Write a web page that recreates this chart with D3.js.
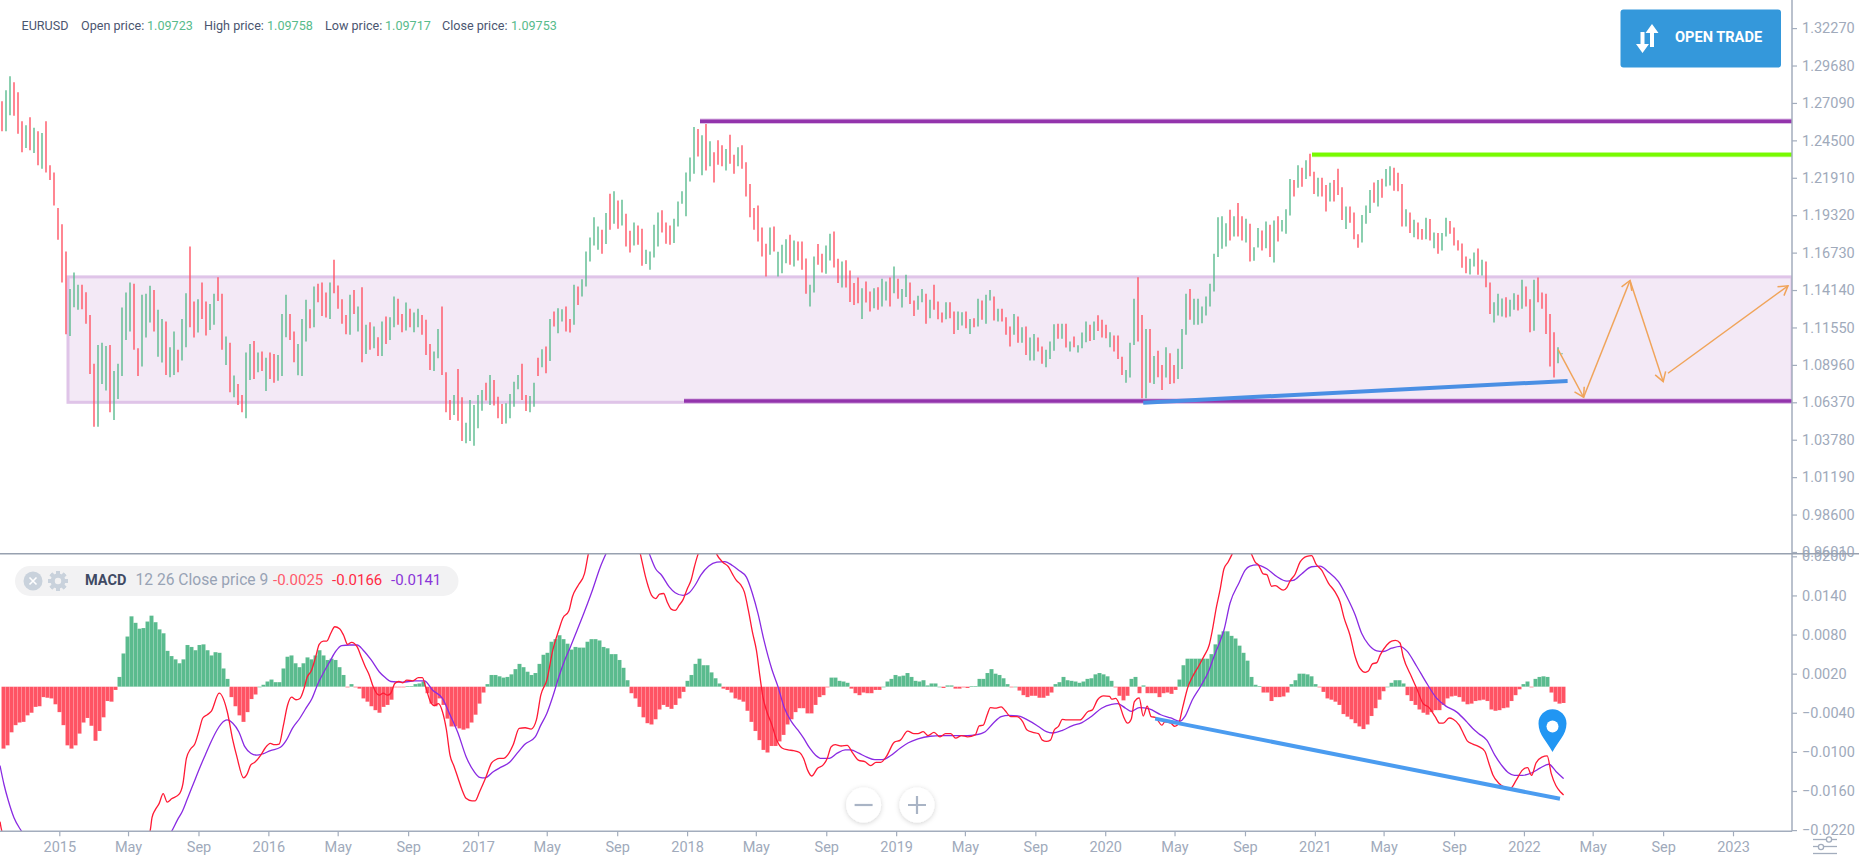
<!DOCTYPE html>
<html><head><meta charset="utf-8">
<script src="https://cdnjs.cloudflare.com/ajax/libs/d3/7.8.5/d3.min.js"></script>
<style>
html,body{margin:0;padding:0;background:#fff;overflow:hidden}
svg{display:block;font-family:Roboto,sans-serif}
</style></head><body><svg id="c" width="1859" height="862"></svg>
<script>
// ---------- tick labels ----------
const priceTicks=[1.32270,1.29680,1.27090,1.24500,1.21910,1.19320,1.16730,1.14140,1.11550,1.08960,1.06370,1.03780,1.01190,0.98600,0.96010];
const macdTicks=[0.0200,0.0140,0.0080,0.0020,-0.0040,-0.0100,-0.0160,-0.0220];
const timeTickDates=["2015-01-01","2015-05-01","2015-09-01","2016-01-01","2016-05-01","2016-09-01","2017-01-01","2017-05-01","2017-09-01","2018-01-01","2018-05-01","2018-09-01","2019-01-01","2019-05-01","2019-09-01","2020-01-01","2020-05-01","2020-09-01","2021-01-01","2021-05-01","2021-09-01","2022-01-01","2022-05-01","2022-09-01","2023-01-01"];
const timeTickLabels=["2015","May","Sep","2016","May","Sep","2017","May","Sep","2018","May","Sep","2019","May","Sep","2020","May","Sep","2021","May","Sep","2022","May","Sep","2023"];
// ---------- weekly highs ----------
const highs=[1.2720,1.2797,1.2894,1.2852,1.2783,1.2582,1.2554,1.2610,1.2538,1.2513,
1.2501,1.2582,1.2277,1.2228,1.1981,1.1870,1.1681,1.1422,1.1535,1.1450,
1.1450,1.1399,1.1242,1.0903,1.1034,1.1050,1.1027,1.1034,1.0854,1.0903,
1.1293,1.1397,1.1466,1.1457,1.1011,1.1381,1.1388,1.1443,1.1415,1.1277,
1.1214,1.1196,1.1018,1.1127,1.1000,1.1214,1.1392,1.1716,1.1335,1.1351,
1.1466,1.1335,1.1318,1.1388,1.1503,1.1388,1.1092,1.1050,1.0822,1.0764,
1.0688,1.0981,1.1041,1.1062,1.0981,1.0988,1.0946,1.0981,1.0972,1.0965,
1.1249,1.1381,1.1249,1.1127,1.1041,1.1214,1.1346,1.1281,1.1439,1.1457,
1.1466,1.1397,1.1466,1.1623,1.1445,1.1351,1.1242,1.1381,1.1415,1.1300,
1.1434,1.1173,1.1191,1.1161,1.1087,1.1196,1.1231,1.1226,1.1369,1.1353,
1.1249,1.1328,1.1284,1.1258,1.1284,1.1242,1.1208,1.1041,1.0988,1.1145,
1.1300,1.0845,1.0653,1.0688,1.0868,1.0672,1.0496,1.0653,1.0618,1.0688,
1.0722,1.0773,1.0826,1.0792,1.0676,1.0625,1.0630,1.0695,1.0780,1.0826,
1.0903,1.0688,1.0681,1.0773,1.0946,1.1004,1.1023,1.1214,1.1265,1.1288,
1.1281,1.1300,1.1214,1.1450,1.1439,1.1489,1.1681,1.1778,1.1917,1.1854,
1.1831,1.1947,1.2081,1.2097,1.2034,1.2039,1.1942,1.1824,1.1882,1.1861,
1.1838,1.1692,1.1681,1.1866,1.1951,1.1967,1.1882,1.1861,1.1907,1.2027,
1.2097,1.2228,1.2332,1.2543,1.2529,1.2485,1.2563,1.2443,1.2367,1.2450,
1.2416,1.2390,1.2489,1.2351,1.2402,1.2416,1.2298,1.2148,1.1981,1.2000,
1.1847,1.1734,1.1847,1.1854,1.1679,1.1727,1.1766,1.1796,1.1757,1.1750,
1.1750,1.1632,1.1450,1.1646,1.1732,1.1665,1.1723,1.1803,1.1820,1.1630,
1.1612,1.1621,1.1549,1.1462,1.1501,1.1427,1.1473,1.1404,1.1427,1.1434,
1.1492,1.1473,1.1501,1.1577,1.1492,1.1422,1.1519,1.1466,1.1341,1.1374,
1.1422,1.1388,1.1346,1.1450,1.1335,1.1258,1.1330,1.1330,1.1265,1.1265,
1.1261,1.1265,1.1214,1.1219,1.1353,1.1341,1.1381,1.1415,1.1369,1.1284,
1.1284,1.1226,1.1161,1.1249,1.1231,1.1157,1.1161,1.1085,1.1110,1.1085,
1.1023,1.1000,1.1057,1.1177,1.1180,1.1180,1.1180,1.1057,1.1092,1.1032,
1.1120,1.1196,1.1173,1.1196,1.1240,1.1208,1.1173,1.1122,1.1099,1.1099,
1.0953,1.0861,1.1050,1.1353,1.1503,1.1242,1.1145,1.1145,1.0958,1.0993,
1.0896,1.1018,1.0976,1.0896,1.1007,1.1145,1.1388,1.1422,1.1353,1.1353,
1.1300,1.1369,1.1457,1.1665,1.1917,1.1924,1.1877,1.1970,1.1924,1.2016,
1.1924,1.1907,1.1873,1.1711,1.1843,1.1826,1.1889,1.1866,1.1896,1.1924,
1.1898,1.1974,1.2182,1.2175,1.2277,1.2261,1.2312,1.2358,1.2233,1.2191,
1.2191,1.2141,1.2157,1.2175,1.2254,1.2125,1.1993,1.1993,1.1951,1.1801,
1.1933,1.2000,1.2106,1.2159,1.2175,1.2185,1.2252,1.2270,1.2261,1.2226,
1.2148,1.1974,1.1951,1.1900,1.1882,1.1836,1.1914,1.1905,1.1813,1.1808,
1.1808,1.1914,1.1891,1.1847,1.1759,1.1736,1.1646,1.1630,1.1674,1.1702,
1.1623,1.1612,1.1466,1.1330,1.1388,1.1355,1.1364,1.1346,1.1392,1.1381,
1.1485,1.1438,1.1351,1.1485,1.1501,1.1397,1.1388,1.1249,1.1122,1.1018,1.09758];
// ---------- weekly lows ----------
const lows=[1.2513,1.2513,1.2623,1.2621,1.2496,1.2367,1.2397,1.2381,1.2362,1.2277,
1.2254,1.2228,1.2175,1.1999,1.1762,1.1466,1.1108,1.1096,1.1295,1.1277,
1.1281,1.1180,1.0833,1.0468,1.0468,1.0764,1.0718,1.0568,1.0514,1.0660,
1.0819,1.1069,1.1127,1.1000,1.0819,1.0884,1.1085,1.1189,1.1127,1.0953,
1.0912,1.0826,1.0810,1.0826,1.0845,1.0926,1.1018,1.1157,1.1085,1.1120,
1.1214,1.1099,1.1138,1.1173,1.1339,1.1000,1.0896,1.0706,1.0672,1.0618,
1.0568,1.0526,1.0792,1.0799,1.0845,1.0854,1.0715,1.0799,1.0773,1.0787,
1.0819,1.1087,1.1069,1.0914,1.0824,1.0819,1.1057,1.1150,1.1157,1.1330,
1.1235,1.1224,1.1214,1.1392,1.1284,1.1180,1.1108,1.1104,1.1249,1.1127,
1.0914,1.0972,1.1000,1.1011,1.0958,1.0958,1.1041,1.1069,1.1157,1.1173,
1.1122,1.1134,1.1157,1.1122,1.1157,1.1104,1.0965,1.0861,1.0854,1.0942,
1.0826,1.0568,1.0514,1.0549,1.0510,1.0369,1.0353,1.0369,1.0337,1.0457,
1.0579,1.0649,1.0618,1.0614,1.0526,1.0487,1.0491,1.0526,1.0607,1.0727,
1.0653,1.0577,1.0568,1.0607,1.0819,1.0879,1.0838,1.0923,1.1161,1.1115,
1.1196,1.1127,1.1120,1.1173,1.1311,1.1369,1.1439,1.1612,1.1723,1.1693,
1.1665,1.1732,1.1831,1.1873,1.1838,1.1861,1.1716,1.1674,1.1723,1.1727,
1.1582,1.1595,1.1554,1.1639,1.1716,1.1813,1.1734,1.1727,1.1739,1.1854,
1.2011,1.1924,1.2166,1.2219,1.2339,1.2208,1.2242,1.2270,1.2159,1.2282,
1.2270,1.2242,1.2288,1.2219,1.2270,1.2254,1.2062,1.1917,1.1831,1.1750,
1.1646,1.1508,1.1658,1.1681,1.1508,1.1531,1.1600,1.1589,1.1577,1.1619,
1.1554,1.1388,1.1300,1.1397,1.1589,1.1535,1.1526,1.1619,1.1570,1.1462,
1.1432,1.1432,1.1332,1.1311,1.1323,1.1214,1.1328,1.1265,1.1288,1.1277,
1.1300,1.1341,1.1300,1.1392,1.1353,1.1293,1.1365,1.1318,1.1235,1.1277,
1.1330,1.1180,1.1219,1.1277,1.1212,1.1189,1.1212,1.1219,1.1110,1.1138,
1.1168,1.1150,1.1110,1.1157,1.1161,1.1208,1.1180,1.1341,1.1203,1.1196,
1.1196,1.1104,1.1023,1.1104,1.1050,1.1050,1.0965,1.0926,1.0926,1.0988,
1.0903,1.0879,1.0937,1.0993,1.1076,1.1076,1.1016,1.0988,1.1018,1.0981,
1.1011,1.1053,1.1062,1.1069,1.1131,1.1085,1.1080,1.1018,1.0988,1.0937,
1.0826,1.0773,1.0808,1.1034,1.1057,1.0642,1.0642,1.0773,1.0764,1.0810,
1.0722,1.0808,1.0764,1.0769,1.0799,1.0868,1.1104,1.1208,1.1173,1.1173,
1.1184,1.1238,1.1300,1.1404,1.1642,1.1700,1.1716,1.1757,1.1785,1.1785,
1.1757,1.1743,1.1612,1.1616,1.1709,1.1688,1.1704,1.1642,1.1605,1.1750,
1.1820,1.1803,1.1930,1.2062,1.2122,1.2129,1.2182,1.2201,1.2078,1.2062,
1.2062,1.1958,1.2027,1.2027,1.2071,1.1898,1.1836,1.1880,1.1766,1.1706,
1.1743,1.1873,1.1947,1.2018,1.1993,1.2053,1.2131,1.2138,1.2101,1.2097,
1.1854,1.1854,1.1808,1.1780,1.1766,1.1762,1.1766,1.1757,1.1704,1.1665,
1.1688,1.1785,1.1803,1.1723,1.1688,1.1568,1.1531,1.1522,1.1577,1.1519,
1.1515,1.1434,1.1249,1.1189,1.1237,1.1231,1.1224,1.1231,1.1277,1.1272,
1.1284,1.1300,1.1122,1.1133,1.1330,1.1284,1.1110,1.0884,1.0808,1.0907,1.09717];
// 1 = rising week, 0 = falling week
const risingWeeks=("0110001010"+"1000000111"+"0000111011"+"1110011101"+"1011011001"+"0011001010"+"0110101001"+"1100111010"+"0010000101"+"0101010110"+
"0101100011"+"0001001111"+"1010001111"+"0011010101"+"1001011111"+"0101010010"+"0111100011"+"1111010100"+"0100100000"+"0010111010"+
"0011001100"+"1000010010"+"1101011001"+"1010001001"+"1010101101"+"0001010110"+"0111010101"+"1101000100"+"0111001010"+"0100111011"+
"1111111010"+"0101101010"+"1110101001"+"0010001000"+"1110101100"+"0101001010"+"1100000110"+"1001110110"+"1001000001"+"1").split("").map(Number);
// ---------- MACD histogram ----------
const histogram=[-.0095,-.0090,-.0070,-.0059,-.0055,-.0054,-.0044,-.0040,-.0031,-.0030,
-.0016,-.0017,-.0018,-.0027,-.0039,-.0059,-.0090,-.0095,-.0090,-.0072,
-.0055,-.0048,-.0060,-.0083,-.0068,-.0047,-.0022,-.0023,-.0005,.0015,
.0051,.0077,.0108,.0098,.0089,.0090,.0100,.0109,.0099,.0088,
.0082,.0055,.0047,.0042,.0036,.0042,.0064,.0061,.0056,.0064,
.0065,.0056,.0048,.0053,.0052,.0028,.0012,-.0016,-.0030,-.0044,
-.0054,-.0039,-.0019,-.0012,0,.0003,.0008,.0011,.0007,.0007,
.0028,.0046,.0048,.0036,.0030,.0036,.0045,.0042,.0048,.0056,
.0048,.0041,.0043,.0041,.0030,.0018,-.0001,.0004,-.0001,-.0003,
-.0018,-.0023,-.0030,-.0036,-.0040,-.0031,-.0028,-.0020,-.0001,-.0001,
-.0001,.0001,.0001,.0004,.0005,.0008,-.0010,-.0026,-.0030,-.0018,
-.0028,-.0049,-.0061,-.0061,-.0064,-.0066,-.0064,-.0055,-.0043,-.0026,
-.0009,.0004,.0018,.0018,.0016,.0014,.0015,.0019,.0027,.0035,
.0030,.0023,.0018,.0021,.0035,.0049,.0052,.0069,.0073,.0079,
.0073,.0066,.0057,.0061,.0060,.0060,.0069,.0073,.0073,.0071,
.0061,.0059,.0050,.0050,.0041,.0029,.0010,-.0010,-.0018,-.0031,
-.0047,-.0056,-.0058,-.0050,-.0035,-.0028,-.0031,-.0034,-.0028,-.0018,
-.0008,.0009,.0018,.0035,.0043,.0033,.0033,.0022,.0013,.0005,
-.0003,-.0005,-.0009,-.0018,-.0020,-.0023,-.0037,-.0054,-.0068,-.0082,
-.0097,-.0101,-.0091,-.0091,-.0084,-.0074,-.0058,-.0050,-.0039,-.0033,
-.0033,-.0041,-.0041,-.0028,-.0016,-.0013,-.0001,.0014,.0014,.0009,
.0008,.0006,-.0003,-.0010,-.0013,-.0009,-.0010,-.0010,-.0005,-.0005,
0,.0008,.0012,.0018,.0016,.0017,.0021,.0015,.0009,.0008,
.0010,.0002,.0005,.0005,0,-.0002,.0002,.0002,-.0003,-.0003,
-.0001,-.0002,.0001,.0001,.0012,.0012,.0021,.0027,.0020,.0018,
.0013,.0004,-.0001,0,-.0006,-.0013,-.0016,-.0014,-.0014,-.0017,
-.0017,-.0014,-.0009,.0004,.0007,.0015,.0010,.0009,.0008,.0006,
.0008,.0012,.0013,.0019,.0021,.0019,.0016,.0009,-.0001,-.0014,
-.0021,-.0014,.0012,.0015,-.0010,.0002,-.0010,-.0010,-.0010,-.0016,
-.0010,-.0009,-.0011,-.0005,.0011,.0033,.0043,.0043,.0043,.0043,
.0043,.0043,.0050,.0065,.0080,.0085,.0085,.0078,.0074,.0063,
.0052,.0040,.0015,.0003,.0001,-.0009,-.0009,-.0022,-.0016,-.0016,
-.0015,-.0009,.0004,.0010,.0020,.0020,.0019,.0016,.0004,-.0001,
-.0008,-.0018,-.0020,-.0023,-.0028,-.0042,-.0046,-.0050,-.0056,-.0061,
-.0065,-.0058,-.0045,-.0033,-.0020,-.0007,0,.0006,.0010,.0010,
.0005,-.0013,-.0022,-.0028,-.0035,-.0040,-.0043,-.0039,-.0036,-.0036,
-.0028,-.0018,-.0015,-.0014,-.0016,-.0023,-.0027,-.0026,-.0022,-.0021,
-.0020,-.0022,-.0035,-.0037,-.0036,-.0033,-.0032,-.0022,-.0013,-.0004,
.0004,.0008,-.0001,.0012,.0015,.0016,.0015,-.0009,-.0023,-.0026,-.0025];
// ---------- MACD line: week number, value ----------
const macdWeek=[-.5,0,10,25,32,37,37.5,38.3,39.3,40.3,41.3,42.4,44.4,45.2,46.1,47.1,48.2,49.2,50.2,51.3,52.3,54.3,56.3,57.7,58.7,60.4,61.2,62.2,63.2,64.7,65.8,67.1,68.1,69.3,70.3,71.4,72.4,73.5,74.5,75.5,76.3,77.3,78.3,79.3,80.3,81.2,82.2,83.2,84.4,85.4,86.4,87.4,88.8,89.8,90.8,91.8,92.8,94.3,95.3,96.4,97.2,98.2,99.2,100.2,101.2,102.7,104.1,105.1,105.9,107.1,108.1,109.1,110.1,111.1,112,113,114,115,116,117.5,118.3,119.4,120.9,122.4,123.4,124.4,125.4,126.4,127.8,129.3,130.8,132.3,133.6,134.7,136.2,137.7,139.2,140.2,141.7,142.6,144.1,145.6,146.6,150,153,156,159.6,160.9,161.6,162.4,163.4,164.4,165.4,166.3,167.3,168.3,169.3,170.3,171.3,172.3,173.1,174,175,176.5,178,178.7,180.2,181.6,182.6,183.6,184.6,185.6,186.6,187.6,188.6,189.5,190.2,191.2,192.5,193.5,195,196.5,197.9,199.4,200.4,201.4,202.4,203.9,205.3,206.3,207.3,208.3,209.8,211.3,212.7,214.2,215.7,217.2,218.5,219.7,221.1,223.1,224.6,226.4,228,229,230.3,231.5,233,234.5,235.9,237.2,238.4,239.9,241.4,243.3,244.3,245.3,246.3,247.1,248.3,249.8,250.7,252.2,253.7,255.2,256.2,257.7,259.1,260.1,261.1,262.1,263.1,264.1,265.1,266.1,267.5,269.5,271.5,272.5,273.9,275.4,276.9,277.4,278.4,279.4,280.4,281.4,282.3,283.1,284.3,285.3,286.3,287.3,288.3,290,290.7,292.2,293.2,294.2,295.2,296.5,297.6,299.1,300.6,301.8,302.6,303.6,304.5,305.5,306.5,307.5,309,311,312.4,313.3,314.1,315.3,316.2,317.4,318.3,320.3,321.2,322,323.3,324.5,326.2,327.4,328.5,329.9,331.6,333.3,334.5,335.5,337,338.3,339.5,340.8,341.6,342.6,343.7,344.5,346.2,347.4,348.4,349.5,350.3,352.4,353.7,355.3,356.6,358.3,359.4,360.3,361.8,362.8,364.3,365.3,366.3,367.7,369.2,370.7,371.7,372.7,374.2,375.6,377.1,378.6,380.1,381.4,382.4,383.5,385,386.3,387.3,388.5,389.7,390.4];
const macdValue=[-.0207,-.0222,-.029,-.031,-.027,-.0222,-.0201,-.0189,-.0179,-.0164,-.0177,-.0172,-.0164,-.0150,-.0110,-.0096,-.0088,-.0069,-.0048,-.0043,-.0038,-.0010,-.0038,-.0082,-.0107,-.0140,-.0135,-.0120,-.0116,-.0105,-.0094,-.0087,-.0089,-.0088,-.0061,-.0028,-.0016,-.0020,-.0018,-.0003,.0015,.0024,.0043,.0065,.0070,.0070,.0082,.0092,.0089,.0079,.0065,.0068,.0061,.0046,.0031,.0018,0,-.0013,-.0010,-.0013,-.0010,.0005,.0008,.0006,.0010,.0009,.0014,.0014,0,-.0023,-.0029,-.0026,-.0038,-.0066,-.0105,-.0122,-.0140,-.0158,-.0171,-.0175,-.0175,-.0161,-.0140,-.0117,-.0112,-.0110,-.0110,-.0105,-.0089,-.0064,-.0063,-.0065,-.0051,-.0013,.0010,.0056,.0087,.0105,.0116,.0138,.0156,.0173,.0204,.0262,.0285,.0270,.0203,.0168,.0153,.0140,.0135,.0142,.0143,.0130,.0119,.0117,.0125,.0134,.0150,.0164,.0184,.0203,.0215,.0222,.0214,.0203,.0191,.0184,.0173,.0163,.0157,.0145,.0117,.0084,.0056,.0015,-.0015,-.0038,-.0059,-.0079,-.0094,-.0097,-.0098,-.0101,-.0110,-.0128,-.0137,-.0125,-.0120,-.0110,-.0092,-.0089,-.0091,-.0090,-.0102,-.0113,-.0115,-.0121,-.0116,-.0116,-.0107,-.0085,-.0082,-.0068,-.0072,-.0072,-.0069,-.0075,-.0070,-.0077,-.0072,-.0072,-.0079,-.0075,-.0077,-.0074,-.0060,-.0059,-.0043,-.0032,-.0033,-.0031,-.0036,-.0046,-.0046,-.0054,-.0066,-.0070,-.0072,-.0082,-.0084,-.0082,-.0066,-.0061,-.0050,-.0051,-.0051,-.0051,-.0038,-.0036,-.0020,-.0014,-.0015,-.0019,-.0018,-.0028,-.0046,-.0056,-.0050,-.0023,-.0017,-.0045,-.0030,-.0046,-.0047,-.0059,-.0054,-.0056,-.0061,-.0056,-.0031,0,.0015,.0031,.0048,.0064,.0087,.0122,.0148,.0181,.0191,.0203,.0225,.0222,.0203,.0191,.0187,.0173,.0172,.0154,.0155,.0148,.0152,.0162,.0173,.0191,.0200,.0201,.0188,.0179,.0159,.0145,.0130,.0106,.0079,.0046,.0028,.0022,.0024,.0035,.0037,.0048,.0064,.0070,.0071,.0067,.0046,.0015,-.0003,-.0026,-.0031,-.0046,-.0056,-.0056,-.0048,-.0050,-.0059,-.0071,-.0083,-.0088,-.0092,-.0099,-.0117,-.0135,-.0148,-.0154,-.0156,-.0143,-.0128,-.0124,-.0136,-.0117,-.0108,-.0106,-.0133,-.0152,-.0162,-.0166];
// ---------- signal line: week number, value ----------
const signalWeek=[-.5,.5,1.5,3,4.9,12,25,35,42.4,43.9,45.1,46.4,47.9,49.4,50.8,52.3,53.8,54.8,56.3,57.7,59.2,60.7,62.2,63.7,65.2,67.1,69.6,71.1,72.6,74.5,76,77.5,79,80.5,81.9,83.4,84.9,86.9,88.8,90.3,92.3,94.3,95.8,97.2,100.2,103.2,105.6,107.6,110.1,112,114,116,118,119.4,120.7,122.9,124.9,126.9,128.8,130.8,133.3,134.7,136.2,137.7,139.2,140.7,142.1,143.8,145.6,147.6,149.6,151,154,157,160,161.9,163.4,164.9,166.8,168.3,170.3,171.8,173.3,174.7,176.7,178.7,180.7,182.6,184.1,186.1,187.6,189,190.5,192.5,194,195.5,197.4,198.9,200.4,201.9,203.4,204.8,206.8,208.8,210.8,212.2,214.2,216.2,218.2,220.1,222.1,224.6,226.6,229,232,234.9,237.9,241.4,243.3,245.8,247.8,249.8,251.7,254.2,256.7,259.1,261.1,262.6,265.1,267.5,270,272.5,274.9,277.4,278.9,280.9,282.3,284.3,286.8,289.7,292.2,294.5,295.7,297.6,299.6,301.6,303.1,304.6,305.5,307,309.3,310.8,312,313.7,316.2,318.7,321.2,322.8,324.9,327.4,329.5,331.6,334.1,336.2,338.3,339.9,341.6,343.7,345.3,347.4,349.5,351.2,353.7,356.2,358.7,360.8,363.7,366.2,367.7,369.2,371.2,373.2,375.1,376.6,378.1,380.1,382.5,384.5,386.7,388.5,390.4];
const signalValue=[-.0121,-.0150,-.0173,-.0201,-.0222,-.0275,-.0295,-.0270,-.0222,-.0204,-.0191,-.0171,-.0148,-.0125,-.0105,-.0084,-.0066,-.0057,-.0051,-.0056,-.0069,-.0092,-.0102,-.0105,-.0103,-.0098,-.0093,-.0082,-.0064,-.0048,-.0033,-.0018,.0005,.0023,.0038,.0054,.0063,.0064,.0064,.0056,.0041,.0023,.0014,.0008,.0007,.0009,.0009,-.0005,-.0018,-.0043,-.0071,-.0107,-.0130,-.0139,-.0140,-.0130,-.0123,-.0116,-.0102,-.0088,-.0077,-.0059,-.0041,-.0015,.0015,.0041,.0061,.0087,.0115,.0148,.0184,.0204,.0240,.0250,.0235,.0203,.0181,.0171,.0153,.0144,.0140,.0144,.0156,.0171,.0185,.0191,.0192,.0186,.0179,.0168,.0143,.0112,.0071,.0026,0,-.0031,-.0054,-.0066,-.0079,-.0094,-.0105,-.0110,-.0110,-.0102,-.0097,-.0097,-.0102,-.0108,-.0112,-.0112,-.0106,-.0094,-.0086,-.0080,-.0076,-.0075,-.0075,-.0075,-.0074,-.0069,-.0056,-.0046,-.0044,-.0045,-.0052,-.0061,-.0069,-.0071,-.0067,-.0060,-.0055,-.0045,-.0033,-.0027,-.0026,-.0033,-.0038,-.0032,-.0034,-.0043,-.0048,-.0053,-.0046,-.0020,0,.0023,.0048,.0071,.0087,.0128,.0160,.0179,.0185,.0187,.0181,.0169,.0162,.0163,.0173,.0184,.0185,.0176,.0161,.0138,.0110,.0082,.0065,.0055,.0054,.0059,.0062,.0055,.0031,.0005,-.0018,-.0029,-.0039,-.0054,-.0064,-.0072,-.0082,-.0105,-.0122,-.0132,-.0136,-.0136,-.0132,-.0125,-.0119,-.0130,-.0141];
// ---------- drawn levels and lines: week number, price or value ----------
const rangeBox={fromWeek:16.5,toWeek:447.5,top:1.1505,bottom:1.0637};
const purpleLevels=[{fromWeek:174.5,toWeek:447.5,price:1.2582},{fromWeek:170.5,toWeek:447.5,price:1.0646}];
const greenLevel={fromWeek:327.5,toWeek:447.5,price:1.2351};
const blueTrendPrice=[[285.3,1.0634],[391.4,1.0785]];
const blueTrendMacd=[[288.3,-.0049],[389.5,-.0172]];
const orangePaths=[[[389,1.1004],[395.4,1.0672]],[[395.4,1.0672],[407,1.1480]],[[407,1.1480],[415.3,1.0780]],[[416.5,1.0838],[446.5,1.1443]]];
const pinMark={week:387.5,value:-.0100};
const headerItems=[["Open price:","1.09723",81,147],["High price:","1.09758",204,267],["Low price:","1.09717",325,385],["Close price:","1.09753",442,511]];

// ---------- scales ----------
const svg=d3.select("#c");
const W=1859,axisX=1792,axisY=831.3,divY=553.7;
const xWeek=d3.scaleLinear().domain([0,390]).range([2,1562]);
const xTime=d3.scaleUtc().domain([new Date("2015-01-01"),new Date("2023-01-01")]).range([59.3,1733]);
const yPrice=d3.scaleLinear().domain([1.0637,1.3227]).range([402.3,28.1]);
const yMacd=d3.scaleLinear().domain([0,-.0160]).range([686.7,791]);
const RED="#ff5364",GREEN="#5abb8e",AX="#a3adbd",TXT="#a0aabb";

const defs=svg.append("defs");
defs.append("clipPath").attr("id","cp").append("rect").attr("x",0).attr("y",0).attr("width",axisX).attr("height",divY);
defs.append("clipPath").attr("id","cm").append("rect").attr("x",0).attr("y",divY).attr("width",axisX).attr("height",axisY-divY);
defs.append("marker").attr("id","arr").attr("markerUnits","userSpaceOnUse").attr("markerWidth",20).attr("markerHeight",20)
 .attr("refX",10).attr("refY",10).attr("orient","auto").attr("viewBox","0 0 20 20")
 .append("path").attr("d","M1,4.5L10,10L1,15.5").attr("fill","none").attr("stroke","#f0a45a").attr("stroke-width",1.5);
const fb=defs.append("filter").attr("id","sh").attr("x","-40%").attr("y","-40%").attr("width","180%").attr("height","180%");
fb.append("feDropShadow").attr("dx",0).attr("dy",1).attr("stdDeviation",2.5).attr("flood-color","#000").attr("flood-opacity",.18);

// ---------- price pane ----------
const pp=svg.append("g").attr("clip-path","url(#cp)");
pp.append("rect").attr("x",xWeek(rangeBox.fromWeek)).attr("y",yPrice(rangeBox.top))
 .attr("width",xWeek(rangeBox.toWeek)-xWeek(rangeBox.fromWeek)).attr("height",yPrice(rangeBox.bottom)-yPrice(rangeBox.top))
 .attr("fill","#f3e9f6").attr("stroke","#dfc4e8").attr("stroke-width",3);
pp.selectAll("line.c").data(highs).join("line").attr("class","c")
 .attr("x1",(d,i)=>xWeek(i)).attr("x2",(d,i)=>xWeek(i))
 .attr("y1",d=>yPrice(d)).attr("y2",(d,i)=>Math.max(yPrice(lows[i]),yPrice(d)+1))
 .attr("stroke",(d,i)=>risingWeeks[i]?GREEN:RED).attr("stroke-width",1.4);
const halo=(sel,c)=>sel.clone(true).attr("stroke",c).attr("stroke-width",5.5).lower();
const levelG=pp.append("g");
levelG.selectAll("line.ha").data(purpleLevels).join("line").attr("class","ha")
 .attr("x1",d=>xWeek(d.fromWeek)).attr("x2",d=>xWeek(d.toWeek)).attr("y1",d=>yPrice(d.price)).attr("y2",d=>yPrice(d.price))
 .attr("stroke","#dcbde6").attr("stroke-width",5.5);
levelG.selectAll("line.lv").data(purpleLevels).join("line").attr("class","lv")
 .attr("x1",d=>xWeek(d.fromWeek)).attr("x2",d=>xWeek(d.toWeek)).attr("y1",d=>yPrice(d.price)).attr("y2",d=>yPrice(d.price))
 .attr("stroke","#9334ac").attr("stroke-width",3.6);
levelG.append("line").attr("x1",xWeek(greenLevel.fromWeek)).attr("x2",xWeek(greenLevel.toWeek))
 .attr("y1",yPrice(greenLevel.price)).attr("y2",yPrice(greenLevel.price)).attr("stroke","#c9fb9a").attr("stroke-width",5);
levelG.append("line").attr("x1",xWeek(greenLevel.fromWeek)).attr("x2",xWeek(greenLevel.toWeek))
 .attr("y1",yPrice(greenLevel.price)).attr("y2",yPrice(greenLevel.price)).attr("stroke","#78fa00").attr("stroke-width",3.6);
const lineP=d3.line().x(d=>xWeek(d[0])).y(d=>yPrice(d[1]));
pp.append("path").attr("d",lineP(blueTrendPrice)).attr("stroke","#4a8fe4").attr("stroke-width",4).attr("fill","none");
pp.selectAll("path.or").data(orangePaths).join("path").attr("class","or").attr("d",lineP)
 .attr("fill","none").attr("stroke","#f0a45a").attr("stroke-width",1.5).attr("marker-end","url(#arr)");

// ---------- MACD pane ----------
const pm=svg.append("g").attr("clip-path","url(#cm)");
pm.selectAll("rect.h").data(histogram).join("rect").attr("class","h")
 .attr("x",(d,i)=>xWeek(i)-.5).attr("width",4)
 .attr("y",d=>d>=0?yMacd(d):yMacd(0)).attr("height",d=>Math.max(Math.abs(yMacd(d)-yMacd(0)),.6))
 .attr("fill",d=>d>=0?GREEN:RED).attr("stroke","#fff").attr("stroke-opacity",.15).attr("stroke-width",.5);
const lineM=d3.line().curve(d3.curveMonotoneX);
const ptsOf=(w,v)=>w.map((d,i)=>[xWeek(d),yMacd(v[i])]);
pm.append("path").attr("d",lineM(ptsOf(signalWeek,signalValue))).attr("fill","none").attr("stroke","#8a2be2").attr("stroke-width",1.3);
pm.append("path").attr("d",lineM(ptsOf(macdWeek,macdValue))).attr("fill","none").attr("stroke","#ff1a35").attr("stroke-width",1.3);
pm.append("path").attr("d",d3.line().x(d=>xWeek(d[0])).y(d=>yMacd(d[1]))(blueTrendMacd)).attr("stroke","#4b9cf0").attr("stroke-width",4).attr("fill","none");

// ---------- map pin ----------
const px=xWeek(pinMark.week)+.5,py=yMacd(pinMark.value);
svg.append("path").attr("transform",`translate(${px},${py})`)
 .attr("d","M0,0C-5,-10 -14,-17 -14,-28.5C-14,-36.5 -7.6,-42.7 0,-42.7C7.6,-42.7 14,-36.5 14,-28.5C14,-17 5,-10 0,0Z").attr("fill","#2196f3");
svg.append("circle").attr("cx",px).attr("cy",py-25.5).attr("r",6).attr("fill","#fff");

// ---------- axes ----------
function styleAxis(g){g.select(".domain").attr("stroke",AX).attr("stroke-width",1.5);
 g.selectAll(".tick line").attr("stroke",AX).attr("stroke-width",1.2);
 g.selectAll(".tick text").attr("fill",TXT).attr("font-size",14.5).attr("font-family","Roboto,sans-serif");}
svg.append("g").attr("transform",`translate(${axisX},0)`)
 .call(d3.axisRight(yPrice).tickValues(priceTicks).tickFormat(d3.format(".5f")).tickSize(5).tickPadding(5)).call(styleAxis)
 .select(".domain").attr("d",`M0,0V${axisY}`);
svg.append("g").attr("transform",`translate(${axisX},0)`)
 .call(d3.axisRight(yMacd).tickValues(macdTicks).tickFormat(d3.format(".4f")).tickSize(5).tickPadding(5)).call(styleAxis)
 .select(".domain").remove();
svg.append("g").attr("transform",`translate(0,${axisY})`)
 .call(d3.axisBottom(xTime).tickValues(timeTickDates.map(d=>new Date(d))).tickFormat((d,i)=>timeTickLabels[i]).tickSize(5).tickPadding(5)).call(styleAxis)
 .select(".domain").attr("d",`M0,0H${axisX}`);
svg.append("line").attr("x1",0).attr("x2",W).attr("y1",divY).attr("y2",divY).attr("stroke","#98a1b0").attr("stroke-width",1.5);

// ---------- header ----------
const hdr=svg.append("g").attr("font-size",12.6).attr("dominant-baseline","middle");
hdr.append("text").attr("x",21.5).attr("y",27).attr("fill","#4b5670").text("EURUSD");
headerItems.forEach(h=>{hdr.append("text").attr("x",h[2]).attr("y",27).attr("fill","#4b5670").text(h[0]);
 hdr.append("text").attr("x",h[3]).attr("y",27).attr("fill","#58bb8c").text(h[1]);});

// ---------- open trade button ----------
svg.append("rect").attr("x",1620.5).attr("y",9.5).attr("width",160.5).attr("height",58).attr("rx",3).attr("fill","#3498db");
const ic=svg.append("g").attr("fill","#fff");
ic.append("path").attr("d","M1640.5,32V44H1636L1642.5,53L1649,44H1644.5V32Z");
ic.append("path").attr("d","M1650,47V33H1645.5L1652,24L1658.5,33H1654V47Z");
svg.append("text").attr("x",1675).attr("y",38.5).attr("dominant-baseline","middle").attr("font-size",14.6).attr("font-weight",700).attr("fill","#fff").text("OPEN TRADE");

// ---------- MACD legend ----------
svg.append("rect").attr("x",15).attr("y",566).attr("width",443.5).attr("height",30).attr("rx",15).attr("fill","#f2f2f3");
svg.append("circle").attr("cx",33).attr("cy",581).attr("r",9.5).attr("fill","#c9d2dc");
svg.append("path").attr("d","M29.5,577.5L36.5,584.5M36.5,577.5L29.5,584.5").attr("stroke","#fff").attr("stroke-width",1.6);
const gear=svg.append("g").attr("transform","translate(58,581)").attr("fill","#c9d2dc");
gear.selectAll("rect").data(d3.range(8)).join("rect").attr("x",-1.9).attr("y",-10).attr("width",3.8).attr("height",20).attr("transform",d=>`rotate(${d*45})`);
gear.append("circle").attr("r",7.4);gear.append("circle").attr("r",3.2).attr("fill","#f2f2f3");
const lg=svg.append("g").attr("font-size",15).attr("dominant-baseline","middle");
lg.append("text").attr("x",85).attr("y",581).attr("font-size",14.5).attr("font-weight",700).attr("fill","#3f4a63").text("MACD");
lg.append("text").attr("x",135.5).attr("y",581).attr("font-size",15.6).attr("fill","#98a3b5").text("12 26 Close price 9");
lg.append("text").attr("x",273).attr("y",581).attr("fill","#ff5a6c").text("-0.0025");
lg.append("text").attr("x",332).attr("y",581).attr("fill","#ff2a45").text("-0.0166");
lg.append("text").attr("x",391).attr("y",581).attr("fill","#8a35d8").text("-0.0141");

// ---------- zoom buttons ----------
[[863.6,"-"],[917,"+"]].forEach(b=>{
 svg.append("circle").attr("cx",b[0]).attr("cy",805).attr("r",17.5).attr("fill","#fff").attr("filter","url(#sh)");
 svg.append("path").attr("d",b[1]=="-"?`M${b[0]-9},805H${b[0]+9}`:`M${b[0]-9},805H${b[0]+9}M${b[0]},796V814`).attr("stroke","#a9b4c5").attr("stroke-width",2.2);
});
// ---------- settings icon ----------
const st=svg.append("g").attr("stroke","#a3adbd").attr("stroke-width",1.3).attr("fill","#fff");
[[839.5,1829],[846.5,1822],[853.5,1829]].forEach(a=>st.append("line").attr("x1",1813).attr("x2",1837).attr("y1",a[0]).attr("y2",a[0]));
st.append("circle").attr("cx",1829).attr("cy",839.5).attr("r",2.6);
st.append("circle").attr("cx",1821).attr("cy",847).attr("r",2.6);
</script></body></html>
